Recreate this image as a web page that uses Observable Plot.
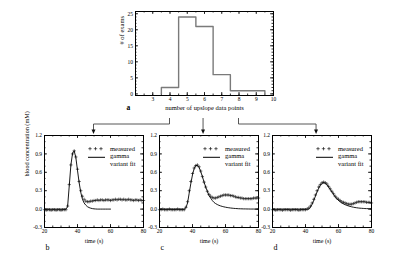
<!DOCTYPE html>
<html><head><meta charset="utf-8">
<script src="https://cdn.jsdelivr.net/npm/d3@7"></script>
<script src="https://cdn.jsdelivr.net/npm/@observablehq/plot@0.6"></script>
<style>
html,body{margin:0;padding:0;background:#fff;}
#fig{position:relative;width:400px;height:261px;overflow:hidden;background:#fff;}
#fig > svg{position:absolute;}
#fig text{font-family:'Liberation Serif','Times New Roman',serif;}
#fig text.sans{font-family:'Liberation Sans',Arial,sans-serif;}
</style></head><body><div id="fig"></div>
<script>
// ---------- data: histogram (panel a) ----------
const binEdges  = [3.5, 4.5, 5.5, 6.5, 7.5, 8.5, 9.5];
const binCounts = [2, 24, 21, 6, 1, 1];
const histXTicks = [3, 4, 5, 6, 7, 8, 9, 10];
const histYTicks = [0, 5, 10, 15, 20, 25];

// ---------- data: concentration curves (panels b, c, d) ----------
const times = d3.range(20, 81); // one sample per second, 20..80 s
const measuredB = [-0.01,-0.02,-0.01,-0.01,-0.02,-0.01,-0.01,-0.02,-0.01,-0.01,-0.02,-0.01,-0.01,-0.01,
  0.05,0.40,0.72,0.90,0.95,0.85,0.65,0.45,0.30,0.21,0.16,0.13,0.12,0.12,0.13,0.13,0.14,
  0.14,0.15,0.14,0.15,0.15,0.14,0.15,0.15,0.15,0.14,0.15,0.15,0.16,0.15,0.16,0.16,0.15,0.16,0.15,0.15,0.16,0.15,0.15,0.14,0.15,0.15,0.14,0.15,0.14,0.14];
const fitB = [0,0,0,0,0,0,0,0,0,0,0,0,0,0,
  0.04,0.38,0.72,0.91,0.95,0.84,0.63,0.43,0.27,0.16,0.10,0.065,0.04,0.025,0.015,0.008,0.004,
  0.002,0,0,0,0,0,0,0,0,0,
  null,null,null,null,null,null,null,null,null,null,null,null,null,null,null,null,null,null,null,null];
const measuredC = [-0.01,-0.01,0.0,-0.01,-0.01,-0.01,0.0,-0.01,-0.01,-0.01,-0.01,0.0,-0.01,-0.01,-0.01,-0.01,
  0.03,0.12,0.30,0.45,0.58,0.67,0.71,0.72,0.69,0.62,0.53,0.44,0.36,0.29,0.24,0.21,0.19,0.18,0.18,0.19,0.20,0.21,0.22,0.23,
  0.23,0.23,0.23,0.22,0.22,0.21,0.20,0.19,0.19,0.18,0.18,0.17,0.17,0.17,0.17,0.17,0.17,0.18,0.18,0.18,0.18];
const fitC = [0,0,0,0,0,0,0,0,0,0,0,0,0,0,0,0,
  0.02,0.10,0.26,0.42,0.56,0.66,0.71,0.71,0.68,0.61,0.53,0.44,0.36,0.29,0.22,0.18,0.14,0.11,0.09,0.075,0.062,0.052,0.044,0.037,
  0.031,0.026,0.022,0.018,0.015,0.012,0.010,0.008,0.006,0.005,0.004,0.003,0.003,0.002,0.002,0.001,0.001,0.001,0,0,0];
const measuredD = [-0.01,-0.01,-0.02,-0.01,-0.01,-0.01,-0.02,-0.01,-0.01,-0.01,-0.01,-0.02,-0.01,-0.01,-0.01,-0.01,-0.02,-0.01,-0.01,-0.01,-0.01,0.0,
  0.02,0.05,0.10,0.16,0.23,0.30,0.36,0.40,0.43,0.44,0.43,0.41,0.37,0.33,0.29,0.25,0.21,0.18,0.16,0.14,0.12,0.11,0.10,0.09,
  0.08,0.08,0.08,0.09,0.10,0.11,0.12,0.12,0.12,0.12,0.12,0.11,0.11,0.11,0.10];
const fitD = [0,0,0,0,0,0,0,0,0,0,0,0,0,0,0,0,0,0,0,0,0,0,0,
  0.03,0.08,0.14,0.21,0.28,0.34,0.39,0.42,0.43,0.42,0.40,0.36,0.32,0.28,0.24,0.20,0.17,0.14,0.12,0.10,
  0.085,0.072,0.061,0.052,0.044,0.037,0.031,0.026,0.022,0.018,0.015,0.013,0.011,0.009,0.008,0.007,0.006,0.005];
const panelLetters = ["b", "c", "d"];
const arrowTimes = [50, 46.7, 46.7];   // where the connector arrows meet each panel
const connectorStarts = [4, null, 8];  // histogram x where the side connectors leave
const timeTicks = [20, 40, 60, 80];
const concTicks = [-0.3, 0, 0.3, 0.6, 0.9, 1.2];

// ---------- helpers ----------
const serif = "'Liberation Serif','Times New Roman',serif";
const sans = "'Liberation Sans',Arial,sans-serif";
const fig = document.getElementById("fig");

function inwardTicks(xMaj, xMin, yMaj, yMin, W, H, L, l) {
  const s = {stroke: "black", strokeWidth: 0.8};
  const m = [];
  for (const [vals, len] of [[yMaj, L], [yMin, l]]) {
    m.push(Plot.tickY(vals, {y: d => d, insetRight: W - len, ...s}));
    m.push(Plot.tickY(vals, {y: d => d, insetLeft: W - len, ...s}));
  }
  for (const [vals, len] of [[xMaj, L], [xMin, l]]) {
    m.push(Plot.tickX(vals, {x: d => d, insetTop: H - len, ...s}));
    m.push(Plot.tickX(vals, {x: d => d, insetBottom: H - len, ...s}));
  }
  return m;
}

// ---------- histogram ----------
const HW = 400, HH = 115, HML = 135, HMR = 127, HMT = 11, HMB = 20;
const histPts = [{x: binEdges[0], y: 0}];
binCounts.forEach((c, i) => { histPts.push({x: binEdges[i], y: c}, {x: binEdges[i + 1], y: c}); });
histPts.push({x: binEdges[binEdges.length - 1], y: 0});

const hist = Plot.plot({
  width: HW, height: HH,
  marginLeft: HML, marginRight: HMR, marginTop: HMT, marginBottom: HMB,
  style: {fontFamily: serif, fontSize: "5.5px", background: "transparent", overflow: "visible"},
  x: {domain: [2, 10], ticks: histXTicks, tickSize: 0, tickPadding: 1.5, label: null},
  y: {domain: [-0.5, 25.7], ticks: histYTicks, tickSize: 0, tickPadding: 2.5, label: null},
  marks: [
    ...inwardTicks(histXTicks, d3.range(2, 10.01, 0.5), histYTicks, d3.range(0, 26, 1),
      HW - HML - HMR, HH - HMT - HMB, 3, 1.5),
    Plot.line(histPts, {x: "x", y: "y", stroke: "#7a7a7a", strokeWidth: 1.4}),
    Plot.frame({stroke: "black", strokeWidth: 1}),
    Plot.text(["# of exams"], {frameAnchor: "left", rotate: -90, dx: -14, dy: -9, fontSize: 6.5}),
    Plot.text(["number of upslope data points"], {frameAnchor: "bottom", dy: 14, fontSize: 6.5}),
    Plot.text(["a"], {frameAnchor: "bottom-left", dx: -9, dy: 14, fontSize: 7.5, fontWeight: "bold", className: "sans"})
  ]
});
hist.style.left = "0px"; hist.style.top = "0px";
fig.appendChild(hist);

// ---------- concentration panels ----------
const PW = 150, PH = 130, PML = 44, PMR = 7, PMT = 10, PMB = 28, PTOP = 125;
const panelLefts = [0, 115, 228];
const measured = [measuredB, measuredC, measuredD];
const fits = [fitB, fitC, fitD];

function legendMark(index, scales, values, dims) {
  const g = d3.create("svg:g").attr("font-size", 6.5).attr("text-anchor", "start").attr("fill", "black");
  const x0 = dims.marginLeft + 46, xt = dims.marginLeft + 66, y0 = dims.marginTop + 13.7;
  for (let k = 0; k < 3; k++) {
    const cx = x0 + k * 5.5;
    g.append("path").attr("d", `M${cx - 1.7},${y0}h3.4M${cx},${y0 - 1.7}v3.4`)
      .attr("stroke", "black").attr("stroke-width", 0.6).attr("fill", "none");
  }
  g.append("text").attr("x", xt).attr("y", y0).attr("dy", "0.32em").text("measured");
  g.append("line").attr("x1", x0 - 2).attr("x2", x0 + 15).attr("y1", y0 + 8.6).attr("y2", y0 + 8.6)
    .attr("stroke", "black").attr("stroke-width", 1);
  g.append("text").attr("x", xt).attr("y", y0 + 7.6).attr("dy", "0.32em").text("gamma");
  g.append("text").attr("x", xt).attr("y", y0 + 15).attr("dy", "0.32em").text("variant fit");
  return g.node();
}

const panels = [0, 1, 2].map(i => {
  const W = PW - PML - PMR, H = PH - PMT - PMB;
  const rows = times.map((t, k) => ({t, m: measured[i][k], f: fits[i][k]}));
  const marks = [
    ...inwardTicks(timeTicks, d3.range(20, 81, 5), concTicks, d3.range(-0.3, 1.2001, 0.1), W, H, 3, 1.5),
    Plot.line(rows.filter(r => r.f != null), {x: "t", y: "f", stroke: "black", strokeWidth: 0.9}),
    Plot.dot(rows, {x: "t", y: "m", symbol: "plus", r: 1.15, stroke: "black", strokeWidth: 0.55}),
    Plot.frame({stroke: "black", strokeWidth: 1}),
    legendMark,
    Plot.text(["time (s)"], {frameAnchor: "bottom", dy: 15, fontSize: 6}),
    Plot.text([panelLetters[i]], {frameAnchor: "bottom-left", dx: 1, dy: 22, textAnchor: "start", fontSize: 8, className: "sans"})
  ];
  if (i === 0) marks.push(Plot.text(["blood concentration (mM)"],
    {frameAnchor: "left", rotate: -90, dx: -17, dy: -5, fontSize: 6.2}));
  const p = Plot.plot({
    width: PW, height: PH,
    marginLeft: PML, marginRight: PMR, marginTop: PMT, marginBottom: PMB,
    style: {fontFamily: serif, fontSize: "5.5px", background: "transparent", overflow: "visible"},
    x: {domain: [20, 80], ticks: timeTicks, tickSize: 0, tickPadding: 2, label: null},
    y: {domain: [-0.3, 1.2], ticks: concTicks, tickSize: 0, tickPadding: 2.5, label: null,
        tickFormat: d => d.toFixed(1)},
    marks
  });
  p.style.left = panelLefts[i] + "px"; p.style.top = PTOP + "px";
  fig.appendChild(p);
  return p;
});

// ---------- connector arrows (overlay) ----------
const hx = hist.scale("x");
const arrowX = panels.map((p, i) => panelLefts[i] + p.scale("x").apply(arrowTimes[i]));
const startX = connectorStarts.map((v, i) => v == null ? arrowX[i] : hx.apply(v));
const yStart = HH + 3, yMid = HH + 9, yTip = PTOP + PMT - 1;
const ov = d3.create("svg").attr("width", 400).attr("height", 261)
  .style("left", "0px").style("top", "0px").style("pointer-events", "none");
arrowX.forEach((ax, i) => {
  const sx = startX[i];
  const d = sx === ax ? `M${sx},${yStart}V${yTip - 4}` : `M${sx},${yStart}V${yMid}H${ax}V${yTip - 4}`;
  ov.append("path").attr("d", d).attr("fill", "none").attr("stroke", "#444").attr("stroke-width", 0.9);
  ov.append("path").attr("d", `M${ax - 2},${yTip - 4.5}L${ax + 2},${yTip - 4.5}L${ax},${yTip}Z`).attr("fill", "#111");
});
fig.appendChild(ov.node());
</script></body></html>
